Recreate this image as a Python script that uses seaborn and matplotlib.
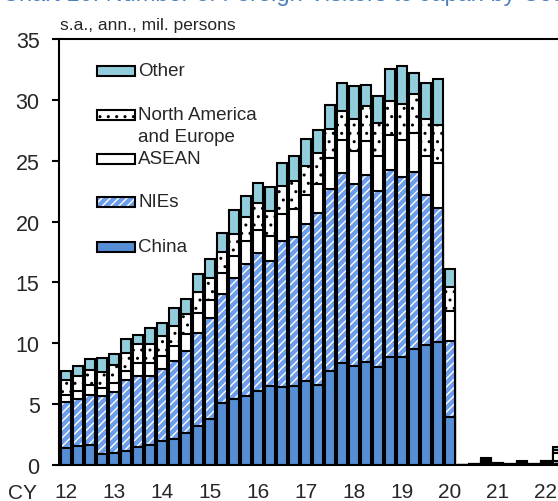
import numpy as np
import pandas as pd
import matplotlib
matplotlib.use('Agg')
import matplotlib.pyplot as plt
from matplotlib.patches import Rectangle
import seaborn as sns

sns.set_style('ticks')
plt.rcParams['font.family'] = ['Liberation Sans', 'DejaVu Sans']
plt.rcParams['hatch.linewidth'] = 1.0

# quarters 2012Q1 .. 2022Q2
quarters = [f'{y}Q{q}' for y in range(12, 23) for q in range(1, 5)][:42]
year_labels = ['12', '13', '14', '15', '16', '17', '18', '19', '20', '21', '22']

# s.a., annualized, million persons
china = [1.39, 1.58, 1.67, 0.87, 0.98, 1.12, 1.48, 1.61, 1.97, 2.16, 2.60, 3.22,
         3.77, 5.08, 5.40, 5.68, 6.10, 6.45, 6.42, 6.50, 6.90, 6.60, 7.70, 8.36,
         8.10, 8.47, 8.06, 8.90, 8.88, 9.50, 9.86, 10.10, 3.96,
         0.00, 0.01, 0.05, 0.02, 0.01, 0.03, 0.01, 0.03, 0.05]
nies = [3.75, 3.83, 4.10, 4.76, 4.98, 5.85, 5.84, 5.71, 5.95, 6.36, 6.77, 7.65,
        8.28, 8.96, 10.00, 10.82, 11.30, 10.35, 11.98, 12.20, 12.90, 14.10, 15.00, 15.64,
        15.00, 15.33, 14.44, 15.30, 14.82, 14.60, 12.34, 11.00, 6.24,
        0.00, 0.02, 0.15, 0.05, 0.02, 0.07, 0.03, 0.08, 0.30]
asean = [0.63, 0.63, 0.84, 0.68, 0.76, 0.76, 1.04, 1.10, 1.04, 1.26, 1.37, 1.64,
         1.50, 1.76, 1.80, 1.90, 1.90, 2.00, 2.25, 2.30, 2.40, 2.40, 2.50, 2.70,
         2.70, 2.80, 2.90, 2.90, 3.00, 3.20, 3.20, 3.70, 2.45,
         0.01, 0.03, 0.10, 0.04, 0.02, 0.08, 0.03, 0.10, 0.60]
nae = [1.20, 1.28, 1.20, 1.34, 1.53, 1.50, 1.56, 1.50, 1.64, 1.64, 1.64, 1.69,
       1.81, 1.70, 1.80, 2.00, 2.20, 2.10, 2.25, 2.30, 2.40, 2.50, 2.40, 2.40,
       2.60, 2.90, 2.70, 2.80, 3.00, 3.20, 3.00, 3.15, 1.95,
       0.01, 0.04, 0.20, 0.04, 0.03, 0.08, 0.03, 0.08, 0.30]
other = [0.76, 0.85, 0.88, 1.18, 0.88, 1.15, 0.79, 1.36, 1.09, 1.50, 1.22, 1.46,
         1.53, 1.57, 1.93, 1.70, 1.70, 1.90, 1.90, 2.10, 2.20, 1.90, 2.00, 2.30,
         2.70, 1.70, 2.20, 2.60, 3.10, 1.70, 3.00, 3.75, 1.47,
         0.00, 0.02, 0.10, 0.00, 0.00, 0.04, 0.02, 0.06, 0.20]

C_CHINA = '#558ed5'
C_NIES = '#6d9eeb'
C_OTHER = '#92cddc'

df = pd.DataFrame({'quarter': quarters, 'China': china, 'NIEs': nies,
                   'ASEAN': asean, 'NAE': nae, 'Other': other})
cum = df[['China', 'NIEs', 'ASEAN', 'NAE', 'Other']].cumsum(axis=1)
df['c1'] = cum['China']
df['c2'] = cum['NIEs']
df['c3'] = cum['ASEAN']
df['c4'] = cum['NAE']
df['c5'] = cum['Other']

W, H = 558, 502
fig = plt.figure(figsize=(W / 100, H / 100), dpi=100)
ax = fig.add_axes([59 / W, 36 / H, (588 - 59) / W, 426 / H])

bw = 0.85
lw = 1.5
common = dict(x='quarter', data=df, width=bw, saturation=1, errorbar=None, ax=ax)
# overlapping cumulative bars, top layer first
sns.barplot(y='c5', color=C_OTHER, edgecolor='black', linewidth=lw, **common)
sns.barplot(y='c4', color='white', hatch='..', edgecolor='black', linewidth=lw, **common)
sns.barplot(y='c3', color='white', edgecolor='black', linewidth=lw, **common)
sns.barplot(y='c2', color=C_NIES, hatch='////', edgecolor='white', linewidth=0, **common)
sns.barplot(y='c2', fill=False, edgecolor='black', linewidth=lw, **common)
sns.barplot(y='c1', color=C_CHINA, edgecolor='black', linewidth=lw, **common)

ax.set_xlim(-0.58, 43.5)
ax.set_ylim(0, 35)
ax.set_yticks(np.arange(0, 36, 5))
ax.set_xticks(np.arange(0, 42, 4))
ax.set_xticklabels(year_labels)
ax.set_xlabel('')
ax.set_ylabel('')
ax.tick_params(axis='y', direction='out', length=5, width=lw, pad=9,
               labelsize=15.5, color='black')
ax.tick_params(axis='x', length=0, pad=12, labelsize=15)
for s in ax.spines.values():
    s.set_linewidth(lw)
    s.set_color('black')


def fx(px): return px / W
def fy(py): return 1 - py / H


# legend drawn by hand (two-line entry sits below its box)
legend_items = [('Other', 72, C_OTHER, None, None),
                ('North America', 116, 'white', '..', 'black'),
                ('ASEAN', 160, 'white', None, None),
                ('NIEs', 203, C_NIES, '////', 'white'),
                ('China', 248, C_CHINA, None, None)]
for label, yc, face, hatch, hcol in legend_items:
    x0, w, h = 97, 38, 10
    if hatch is not None:
        fig.add_artist(Rectangle((fx(x0), fy(yc + h / 2)), w / W, h / H,
                                 transform=fig.transFigure, facecolor=face,
                                 edgecolor=hcol, hatch=hatch, linewidth=0))
        fig.add_artist(Rectangle((fx(x0), fy(yc + h / 2)), w / W, h / H,
                                 transform=fig.transFigure, facecolor='none',
                                 edgecolor='black', linewidth=lw))
    else:
        fig.add_artist(Rectangle((fx(x0), fy(yc + h / 2)), w / W, h / H,
                                 transform=fig.transFigure, facecolor=face,
                                 edgecolor='black', linewidth=lw))
    fig.text(fx(138), fy(yc), label, fontsize=13.5, va='center', ha='left')
fig.text(fx(138), fy(137), 'and Europe', fontsize=13.5, va='center', ha='left')

fig.text(fx(60), fy(30), 's.a., ann., mil. persons', fontsize=12.5,
         va='baseline', ha='left')
fig.text(fx(22), fy(499), 'CY', fontsize=15, va='baseline', ha='center')

# chart title, mostly cut off at the top edge
fig.text(fx(2), fy(1.5), 'Chart 10: Number of Foreign Visitors to Japan by Country',
         fontsize=17, color='#4f81bd', va='baseline', ha='left')

fig.savefig('out.png', dpi=100)
